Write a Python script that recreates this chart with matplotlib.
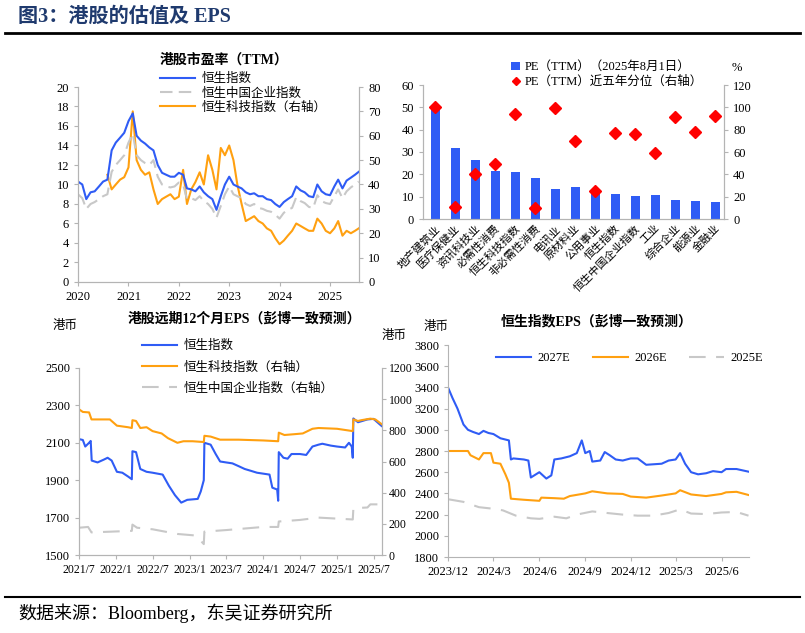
import matplotlib
matplotlib.use("Agg")
import matplotlib.pyplot as plt
import matplotlib.dates as mdates
import pandas as pd

plt.rcParams['font.family'] = ['Liberation Serif', 'Noto Sans CJK SC']
plt.rcParams['axes.unicode_minus'] = False

BLUE = '#2f5cf5'
ORANGE = '#ffa010'
GRAY = '#c8c8c8'
SPINE = '#b4b4b4'

# ---- top-left: PE (TTM), monthly readings
pe_dates = list(pd.date_range('2020-01-01', '2025-07-01', freq='MS')) + [pd.Timestamp('2025-07-28')]
pe_hsi = [10.3, 10.0, 8.5, 9.2, 9.3, 9.8, 10.3, 10.5, 13.5, 14.3, 14.8, 15.3,
          16.5, 17.3, 15.0, 14.5, 14.2, 13.8, 13.5, 12.0, 11.2, 11.0, 10.8, 10.8,
          11.2, 11.0, 9.6, 9.5, 9.3, 9.8, 9.2, 8.8, 8.5, 7.4, 8.8, 10.0,
          10.8, 10.0, 9.8, 9.6, 9.2, 9.0, 9.1, 8.8, 8.8, 8.5, 8.4, 8.0,
          7.7, 8.2, 8.5, 8.8, 9.8, 9.4, 9.2, 8.8, 8.7, 10.0, 9.3, 9.0,
          8.9, 9.8, 10.5, 9.6, 10.4, 10.7, 11.0, 11.3]
pe_hscei = [9.0, 8.6, 7.5, 8.0, 8.2, 8.5, 8.8, 9.0, 11.3, 12.0, 12.5, 13.0,
            14.3, 15.2, 13.0, 12.5, 12.2, 12.0, 12.5, 10.8, 10.0, 9.8, 9.7, 9.8,
            10.2, 10.0, 8.5, 8.6, 8.4, 8.8, 8.3, 8.0, 7.5, 6.6, 7.8, 9.0,
            9.8, 9.0, 8.8, 8.6, 8.0, 7.8, 8.0, 7.6, 7.5, 7.3, 7.2, 6.9,
            6.5, 7.1, 7.4, 7.6, 8.7, 8.3, 8.1, 7.7, 7.6, 8.9, 8.3, 8.1,
            8.0, 8.8, 9.5, 8.6, 9.3, 9.7, 10.0, 10.3]
tech_dates = list(pd.date_range('2020-08-01', '2025-07-01', freq='MS')) + [pd.Timestamp('2025-07-28')]
pe_tech = [44, 38, 40, 42, 43,
           47, 70, 50, 46, 44, 45, 38, 32, 34, 35, 36, 34,
           35, 46, 32, 38, 41, 45, 40, 52, 46, 38, 55, 52,
           56, 50, 40, 32, 25, 26, 27, 25, 24, 22, 21, 18,
           15.5, 17, 19, 21, 24, 23, 22, 21, 21, 26, 24, 21,
           20, 22, 25, 19, 21, 20, 21, 22]

# ---- top-right: sector PE
sectors = ['地产建筑业', '医疗保健业', '资讯科技业', '必需性消费', '恒生科技指数', '非必需性消费',
           '电讯业', '原材料业', '公用事业', '恒生指数', '恒生中国企业指数', '工业',
           '综合企业', '能源业', '金融业']
sector_pe = [50, 32, 26.5, 21.5, 21.2, 18.3, 13.4, 14.5, 12, 11, 10.2, 10.6, 8.7, 7.9, 7.4]
sector_pct = [100, 11, 40, 49, 94, 10, 99, 70, 25, 77, 76, 59, 91, 78, 92]

# ---- bottom-left: forward 12M EPS
hsi_eps = [('2021-07-01', 2120), ('2021-07-20', 2115), ('2021-08-01', 2080), ('2021-08-20', 2100),
           ('2021-08-28', 2110), ('2021-09-02', 2005), ('2021-10-01', 1995), ('2021-11-01', 2010),
           ('2021-11-20', 2020), ('2021-12-10', 2005), ('2022-01-05', 1945), ('2022-02-01', 1940),
           ('2022-03-01', 1920), ('2022-03-20', 1905), ('2022-03-23', 2055), ('2022-04-10', 2050),
           ('2022-05-01', 1960), ('2022-06-01', 1945), ('2022-07-01', 1940), ('2022-08-20', 1930),
           ('2022-09-20', 1870), ('2022-10-20', 1820), ('2022-11-20', 1780), ('2022-12-20', 1795),
           ('2023-02-10', 1800), ('2023-02-25', 1840), ('2023-03-12', 1900), ('2023-03-15', 2100),
           ('2023-04-15', 2090), ('2023-05-10', 2040), ('2023-06-01', 2000), ('2023-07-01', 1995),
           ('2023-08-01', 1990), ('2023-09-01', 1975), ('2023-10-01', 1960), ('2023-11-01', 1950),
           ('2023-12-01', 1940), ('2024-01-01', 1935), ('2024-02-01', 1930), ('2024-02-15', 1860),
           ('2024-03-10', 1850), ('2024-03-15', 1790), ('2024-03-18', 2050), ('2024-04-10', 2020),
           ('2024-05-01', 2015), ('2024-05-20', 2040), ('2024-07-01', 2040), ('2024-08-01', 2035),
           ('2024-09-01', 2080), ('2024-10-01', 2090), ('2024-10-20', 2095), ('2024-12-01', 2085),
           ('2025-01-01', 2080), ('2025-02-10', 2075), ('2025-03-01', 2100), ('2025-03-15', 2080),
           ('2025-03-20', 2020), ('2025-03-23', 2230), ('2025-04-15', 2210), ('2025-05-01', 2215),
           ('2025-06-01', 2225), ('2025-07-01', 2228), ('2025-08-10', 2190)]
tech_eps = [('2021-07-01', 935), ('2021-07-20', 918), ('2021-08-20', 915), ('2021-09-01', 870),
            ('2021-12-01', 870), ('2022-01-05', 830), ('2022-03-01', 820), ('2022-03-20', 815),
            ('2022-03-23', 865), ('2022-04-10', 860), ('2022-05-01', 815), ('2022-06-01', 820),
            ('2022-07-01', 795), ('2022-08-15', 780), ('2022-09-15', 750), ('2022-11-01', 720),
            ('2022-12-01', 730), ('2023-01-15', 730), ('2023-03-12', 725), ('2023-03-15', 765),
            ('2023-04-15', 760), ('2023-06-01', 740), ('2023-09-01', 740), ('2024-01-01', 735),
            ('2024-03-15', 730), ('2024-03-18', 785), ('2024-04-15', 770), ('2024-06-01', 775),
            ('2024-07-15', 780), ('2024-09-01', 810), ('2024-10-01', 815), ('2025-01-01', 810),
            ('2025-03-20', 795), ('2025-03-23', 870), ('2025-04-15', 860), ('2025-05-01', 865),
            ('2025-06-15', 875), ('2025-07-10', 870), ('2025-08-10', 840)]
hscei_eps = [('2021-07-01', 175), ('2021-08-15', 180), ('2021-09-01', 145), ('2022-03-20', 155),
             ('2022-03-23', 195), ('2022-04-15', 175), ('2022-07-01', 165), ('2022-11-01', 135),
             ('2023-02-01', 125), ('2023-03-12', 70), ('2023-03-15', 150), ('2023-07-01', 160),
             ('2024-01-01', 180), ('2024-03-15', 180), ('2024-03-18', 215), ('2024-07-01', 225),
             ('2024-10-01', 240), ('2025-03-20', 228), ('2025-03-23', 300), ('2025-06-01', 305),
             ('2025-06-15', 325), ('2025-08-10', 325)]

# ---- bottom-right: HSI EPS by year
eps_2027 = [('2023-12-01', 3400), ('2023-12-10', 3300), ('2023-12-20', 3200), ('2024-01-01', 3050),
            ('2024-01-10', 3000), ('2024-01-20', 2980), ('2024-02-01', 2960), ('2024-02-10', 2990),
            ('2024-02-20', 2970), ('2024-03-01', 2960), ('2024-03-15', 2920), ('2024-04-01', 2900),
            ('2024-04-05', 2720), ('2024-04-10', 2730), ('2024-05-01', 2720), ('2024-05-10', 2710),
            ('2024-05-15', 2550), ('2024-06-01', 2600), ('2024-06-15', 2540), ('2024-06-25', 2570),
            ('2024-07-01', 2720), ('2024-07-15', 2730), ('2024-08-01', 2750), ('2024-08-15', 2780),
            ('2024-08-25', 2900), ('2024-09-01', 2780), ('2024-09-10', 2800), ('2024-09-15', 2700),
            ('2024-10-01', 2710), ('2024-10-10', 2790), ('2024-10-20', 2760), ('2024-11-01', 2720),
            ('2024-11-15', 2710), ('2024-12-01', 2730), ('2024-12-15', 2730), ('2025-01-01', 2670),
            ('2025-02-01', 2680), ('2025-02-15', 2710), ('2025-03-01', 2720), ('2025-03-10', 2780),
            ('2025-03-20', 2680), ('2025-04-01', 2600), ('2025-04-15', 2580), ('2025-05-01', 2590),
            ('2025-05-15', 2610), ('2025-06-01', 2600), ('2025-06-10', 2630), ('2025-07-01', 2630),
            ('2025-07-25', 2605)]
eps_2026 = [('2023-12-01', 2800), ('2024-01-10', 2800), ('2024-01-15', 2760), ('2024-02-01', 2720),
            ('2024-02-10', 2780), ('2024-02-25', 2780), ('2024-03-01', 2690), ('2024-03-15', 2680),
            ('2024-03-25', 2580), ('2024-04-01', 2500), ('2024-04-05', 2350), ('2024-05-01', 2340),
            ('2024-06-01', 2330), ('2024-06-05', 2360), ('2024-07-01', 2355), ('2024-07-20', 2350),
            ('2024-08-01', 2375), ('2024-09-01', 2400), ('2024-09-15', 2420), ('2024-10-15', 2400),
            ('2024-11-15', 2395), ('2024-12-01', 2370), ('2025-01-01', 2360), ('2025-02-01', 2380),
            ('2025-03-01', 2400), ('2025-03-10', 2430), ('2025-04-01', 2390), ('2025-05-01', 2375),
            ('2025-06-01', 2395), ('2025-06-10', 2410), ('2025-07-01', 2415), ('2025-07-25', 2385)]
eps_2025 = [('2023-12-01', 2345), ('2024-01-01', 2320), ('2024-02-01', 2270), ('2024-03-01', 2255),
            ('2024-03-20', 2240), ('2024-04-15', 2190), ('2024-05-15', 2165), ('2024-06-01', 2160),
            ('2024-07-01', 2180), ('2024-07-25', 2165), ('2024-08-15', 2200), ('2024-09-15', 2230),
            ('2024-10-15', 2215), ('2024-11-15', 2200), ('2024-12-15', 2190), ('2025-01-15', 2190),
            ('2025-02-15', 2215), ('2025-03-10', 2250), ('2025-04-01', 2210), ('2025-05-01', 2205),
            ('2025-06-01', 2220), ('2025-07-01', 2225), ('2025-07-25', 2190)]


def unpack(pairs):
    return [pd.Timestamp(d) for d, _ in pairs], [v for _, v in pairs]


def style_axes(ax, right=None, size=9.5):
    for a in [ax, right]:
        if a is None:
            continue
        a.spines['top'].set_visible(False)
        for s in ['left', 'bottom', 'right']:
            a.spines[s].set_color(SPINE)
        a.tick_params(colors=SPINE, labelcolor='black', labelsize=size, length=3, direction='out')


def ym_fmt(x, pos=None):
    d = mdates.num2date(x)
    return f'{d.year}/{d.month}'


fig = plt.figure(figsize=(8.05, 6.33), dpi=100)
W, H = 805, 633


def add_ax(l, t, r, b):
    return fig.add_axes([l / W, 1 - b / H, (r - l) / W, (b - t) / H])


# header / footer
fig.text(18 / W, 1 - 17 / H, '图3：港股的估值及 EPS', fontsize=14.5, fontweight='bold', color='#1f3a6e',
         va='center', ha='left')
fig.add_artist(plt.Line2D([5 / W, 800 / W], [1 - 33 / H, 1 - 33 / H], color='black', lw=2))
fig.add_artist(plt.Line2D([5 / W, 800 / W], [1 - 597 / H, 1 - 597 / H], color='black', lw=1.5))
fig.text(18 / W, 1 - 613 / H, '数据来源：Bloomberg，东吴证券研究所', fontsize=13, va='center', ha='left')

# ---- top-left
ax1 = add_ax(78, 87, 359, 282)
ax1r = ax1.twinx()
l1, = ax1.plot(pe_dates, pe_hsi, color=BLUE, lw=1.5, label='恒生指数')
l2, = ax1.plot(pe_dates, pe_hscei, color=GRAY, lw=1.5, dashes=(6, 3), label='恒生中国企业指数')
l3, = ax1r.plot(tech_dates, pe_tech, color=ORANGE, lw=1.5, label='恒生科技指数（右轴）')
ax1.set_zorder(ax1r.get_zorder() + 1)
ax1.patch.set_visible(False)
ax1.set_ylim(0, 20)
ax1.set_yticks(range(0, 21, 2))
ax1r.set_ylim(0, 80)
ax1r.set_yticks(range(0, 81, 10))
ax1.set_xlim(pd.Timestamp('2020-01-01'), pd.Timestamp('2025-07-30'))
ax1.xaxis.set_major_locator(mdates.YearLocator())
ax1.xaxis.set_major_formatter(mdates.DateFormatter('%Y'))
style_axes(ax1, ax1r, 9)
fig.text(224 / W, 1 - 60 / H, '港股市盈率（TTM）', fontsize=10, fontweight='bold',
         ha='center', va='center')
ax1.legend(handles=[l1, l2, l3], loc='upper left', bbox_to_anchor=(154 / W, 1 - 67 / H),
           bbox_transform=fig.transFigure, frameon=False, fontsize=9, borderpad=0,
           labelspacing=0.15, handlelength=2.8, handletextpad=0.5)

# ---- top-right
ax2 = add_ax(423, 85, 724, 219)
ax2r = ax2.twinx()
x = range(len(sectors))
b = ax2.bar(x, sector_pe, width=0.45, color=BLUE, label='PE（TTM）（2025年8月1日）')
d, = ax2r.plot(x, sector_pct, ls='none', marker='D', ms=6.5, color='#ff0000',
               label='PE（TTM）近五年分位（右轴）')
ax2.set_ylim(0, 60)
ax2.set_yticks(range(0, 61, 10))
ax2r.set_ylim(0, 120)
ax2r.set_yticks(range(0, 121, 20))
ax2.set_xlim(-0.6, 14.45)
ax2.set_xticks(list(x))
ax2.set_xticklabels(sectors, rotation=45, ha='right', rotation_mode='anchor')
style_axes(ax2, ax2r, 9)
ax2.tick_params(axis='x', length=0, labelsize=8, pad=3)
fig.text(737 / W, 1 - 68 / H, '%', fontsize=9, ha='center', va='center')
ax2.legend(handles=[b, d], loc='upper left', bbox_to_anchor=(505 / W, 1 - 55 / H),
           bbox_transform=fig.transFigure, frameon=False, fontsize=9, borderpad=0,
           labelspacing=0.2, handlelength=0.7, handletextpad=0.4, markerscale=0.6)

# ---- bottom-left
ax3 = add_ax(79, 368, 382, 555)
ax3r = ax3.twinx()
dx, dv = unpack(hsi_eps)
m1, = ax3.plot(dx, dv, color=BLUE, lw=1.5, label='恒生指数')
dx, dv = unpack(tech_eps)
m2, = ax3r.plot(dx, dv, color=ORANGE, lw=1.5, label='恒生科技指数（右轴）')
dx, dv = unpack(hscei_eps)
m3, = ax3r.plot(dx, dv, color=GRAY, lw=1.5, dashes=(8, 5), label='恒生中国企业指数（右轴）')
ax3.set_ylim(1500, 2500)
ax3.set_yticks(range(1500, 2501, 200))
ax3r.set_ylim(0, 1200)
ax3r.set_yticks(range(0, 1201, 200))
ax3.set_xlim(pd.Timestamp('2021-07-01'), pd.Timestamp('2025-08-12'))
ax3.xaxis.set_major_locator(mdates.MonthLocator(bymonth=[1, 7]))
ax3.xaxis.set_major_formatter(plt.FuncFormatter(ym_fmt))
style_axes(ax3, ax3r, 9)
ax3.tick_params(axis='x', labelsize=8.5)
ax3r.tick_params(axis='y', labelsize=8.5, pad=2)
fig.text(244 / W, 1 - 319 / H, '港股远期12个月EPS（彭博一致预测）', fontsize=10, fontweight='bold',
         ha='center', va='center')
fig.text(65 / W, 1 - 326 / H, '港币', fontsize=9, ha='center', va='center')
fig.text(394 / W, 1 - 336 / H, '港币', fontsize=9, ha='center', va='center')
ax3.legend(handles=[m1, m2, m3], loc='upper left', bbox_to_anchor=(136 / W, 1 - 334 / H),
           bbox_transform=fig.transFigure, frameon=False, fontsize=9, borderpad=0,
           labelspacing=0.7, handlelength=2.8, handletextpad=0.5)

# ---- bottom-right
ax4 = add_ax(448, 345, 749, 557)
dx, dv = unpack(eps_2027)
n1, = ax4.plot(dx, dv, color=BLUE, lw=1.5, label='2027E')
dx, dv = unpack(eps_2026)
n2, = ax4.plot(dx, dv, color=ORANGE, lw=1.5, label='2026E')
dx, dv = unpack(eps_2025)
n3, = ax4.plot(dx, dv, color=GRAY, lw=1.5, dashes=(8, 5), label='2025E')
ax4.set_ylim(1800, 3800)
ax4.set_yticks(range(1800, 3801, 200))
ax4.set_xlim(pd.Timestamp('2023-12-01'), pd.Timestamp('2025-07-26'))
ax4.xaxis.set_major_locator(mdates.MonthLocator(bymonth=[3, 6, 9, 12]))
ax4.xaxis.set_major_formatter(plt.FuncFormatter(ym_fmt))
style_axes(ax4, None, 9)
ax4.spines['right'].set_visible(False)
fig.text(597 / W, 1 - 322 / H, '恒生指数EPS（彭博一致预测）', fontsize=10, fontweight='bold',
         ha='center', va='center')
fig.text(436 / W, 1 - 327 / H, '港币', fontsize=9, ha='center', va='center')
ax4.legend(handles=[n1, n2, n3], loc='upper left', bbox_to_anchor=(490 / W, 1 - 346 / H),
           bbox_transform=fig.transFigure, frameon=False, fontsize=9, borderpad=0, ncol=3,
           handlelength=2.8, handletextpad=0.5, columnspacing=1.8)

fig.savefig('out.png', dpi=100)
